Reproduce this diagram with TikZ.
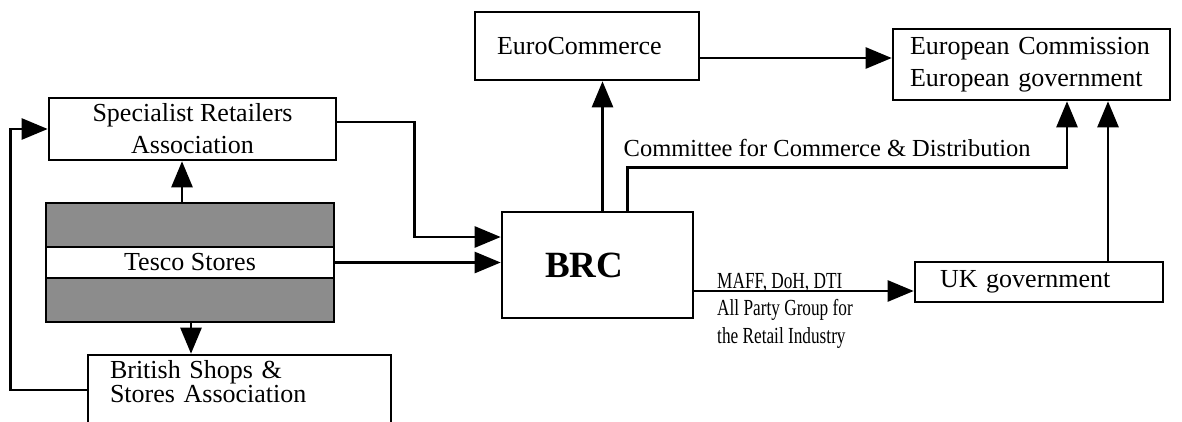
\documentclass[tikz,border=0pt]{standalone}
\usepackage{fontspec}
\setmainfont{Liberation Serif}
\newfontfamily\narrowfont[FakeStretch=0.75]{Liberation Serif}
\usetikzlibrary{arrows.meta}

\begin{document}
\begin{tikzpicture}[x=1pt,y=-1pt,
		box/.style={draw,line width=2.6pt,rectangle,inner sep=0pt,font=\fontsize{26}{32}\selectfont},
		arr/.style={line width=2.6pt,-{Triangle[length=26pt,width=21pt]}}]
			\useasboundingbox (0,0) rectangle (1182,422);
			\node[box,minimum width=287pt,minimum height=62pt,align=center] (sra) at (192.5,129) {Specialist Retailers\\Association};
			\node[box,fill=black!45,minimum width=288pt,minimum height=119pt] (tesco) at (190,262.5) {};
			\node[box,fill=white,minimum width=288pt,minimum height=31pt] (tescoband) at (tesco.center) {Tesco Stores};
			\node[box,minimum width=303pt,minimum height=70pt,text width=259pt,inner xsep=22pt,align=left,font=\fontsize{26}{24}\selectfont] (bssa) at (239.5,390) {British Shops \&\\Stores Association\\[-6pt]\mbox{}};
			\node[box,minimum width=191pt,minimum height=106pt,text width=105pt,inner xsep=43pt,align=left,font=\fontsize{37}{40}\selectfont\bfseries] (brc) at (597.5,265) {BRC};
			\node[box,minimum width=224pt,minimum height=68pt,text width=180pt,inner xsep=22pt,align=left] (euro) at (587,46) {EuroCommerce};
			\node[box,minimum width=277pt,minimum height=71pt,text width=243pt,inner xsep=17pt,align=left] (ec) at (1031.5,64.5) {European Commission\\European government};
			\node[box,minimum width=248pt,minimum height=40pt,text width=198pt,inner xsep=25pt,align=left] (ukgov) at (1039,282) {UK government};

			\draw[arr] ([xshift=-8pt]tesco.north) -- ([xshift=-8pt]tesco.north |- sra.south);
			\draw[arr] ([xshift=1pt]tesco.south) -- ([xshift=1pt]tesco.south |- bssa.north);
			\draw[arr] (bssa.west) -| ([xshift=-37pt]sra.west) -- (sra.west);
			\draw[arr] ([yshift=7pt]sra.east) -| ([xshift=-86pt,yshift=28pt]brc.west) -- ([yshift=28pt]brc.west);
			\draw[arr] (tescoband.east) -- (tescoband.east -| brc.west);
			\draw[arr] ([xshift=5pt]brc.north) -- ([xshift=5pt]brc.north |- euro.south);
			\draw[arr] ([yshift=-12pt]euro.east) -- ([yshift=-12pt]euro.east -| ec.west);
			\draw[arr] ([xshift=30pt]brc.north) -- ++(0,-43) coordinate (ccd) -| ([xshift=35.5pt]ec.south);
			\node[anchor=base west,inner sep=0pt,font=\fontsize{24.5}{28}\selectfont] (ccdlabel) at ([xshift=-4pt,yshift=11pt]ccd) {Committee for Commerce \& Distribution};
			\draw[arr] ([yshift=-26pt]brc.east) -- ([yshift=-26pt]brc.east -| ukgov.west);
			\node[anchor=north west,inner sep=0pt,align=left,font=\narrowfont\fontsize{23}{27.5}\selectfont] (govlabel) at (717,273) {MAFF, DoH, DTI\\All Party Group for\\the Retail Industry};
			\draw[arr] ([xshift=69pt]ukgov.north) -- ([xshift=69pt]ukgov.north |- ec.south);
		\end{tikzpicture}
\end{document}
